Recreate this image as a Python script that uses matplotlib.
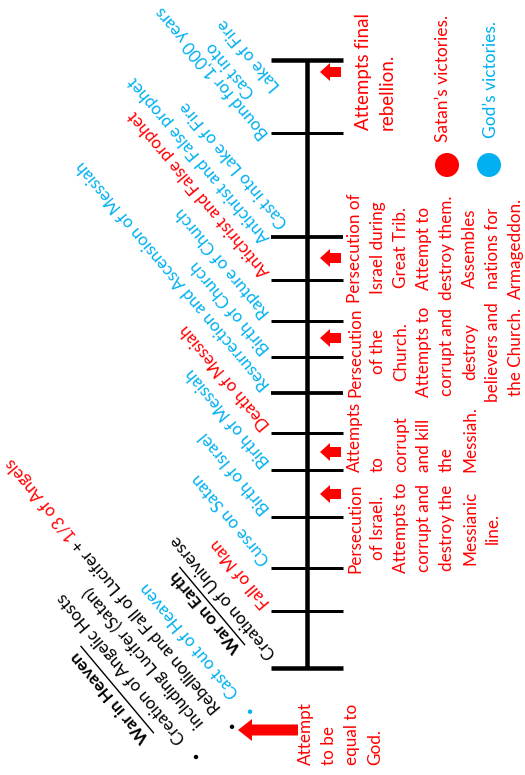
import numpy as np
import matplotlib
matplotlib.use('Agg')
import matplotlib.pyplot as plt
from matplotlib.patches import Circle, FancyArrow
from matplotlib.font_manager import FontProperties

RED = '#FF0000'
BLUE = '#00B0F0'
FONT = 'Lato'
FS = 12.2     # slanted labels
FS_R = 12.3   # upright blocks on the right

# timeline ticks (pixel rows) and what happened there
tick_y = [60, 133, 237, 280, 321, 357, 393, 433, 470, 517, 568, 611, 668]
events = [
    ["Cast into", "Lake of Fire"],
    ["Bound for 1,000 years"],
    ["Antichrist and False prophet", "Cast into Lake of Fire"],
    ["Antichrist and False prophet"],
    ["Rapture of Church"],
    ["Birth of Church"],
    ["Resurrection and Ascension of Messiah"],
    ["Death of Messiah"],
    ["Birth of Messiah"],
    ["Birth of Israel"],
    ["Curse on Satan"],
    ["Fall of Man"],
    ["War on Earth", "Creation of Universe"],
]
victor = ['god', 'god', 'god', 'satan', 'god', 'god', 'god', 'satan',
          'god', 'god', 'god', 'satan', 'none']

# Satan's attacks (arrow rows) and their descriptions
attack_y = [72, 258, 338, 452, 494]
attacks = [
    ["Attempts final", "rebellion."],
    ["Persecution of", "Israel during", "Great Trib.", "Attempt to",
     "destroy them.", "Assembles", "nations for", "Armageddon."],
    ["Persecution", "of the", "Church.", "Attempts to", "corrupt and",
     "destroy", "believers and", "the Church."],
    ["Attempts", "to", "corrupt", "and kill", "the", "Messiah."],
    ["Persecution", "of Israel.", "Attempts to", "corrupt and", "destroy the",
     "Messianic", "line."],
]
first_attack = ["Attempt", "to be", "equal to", "God."]

heaven_title = "War in Heaven"
heaven_items = [["Creation of Angelic Hosts", "including Lucifer (Satan)"],
                ["Rebellion and Fall of Lucifer + ", "1/3 of Angels"],
                ["Cast out of Heaven"]]

colors = {'god': BLUE, 'satan': RED, 'none': 'black'}

fig = plt.figure(figsize=(5.25, 7.75), dpi=100)
ax = fig.add_axes([0, 0, 1, 1])
ax.set_xlim(0, 525)
ax.set_ylim(775, 0)
ax.axis('off')
renderer = fig.canvas.get_renderer()


def width(s, weight='normal'):
    fp = FontProperties(family=FONT, size=FS, weight=weight)
    return renderer.get_text_width_height_descent(s, fp, ismath=False)[0]


PX = 0.72  # points per pixel
# timeline
ax.plot([307, 307], [tick_y[0], tick_y[-1]], color='black', lw=4.5 * PX,
        solid_capstyle='butt')
for i, y in enumerate(tick_y):
    lw = 4.5 if i in (0, len(tick_y) - 1) else (3.8 if i in (2, 6) else 3.0)
    ax.plot([271, 343], [y, y], color='black', lw=lw * PX, solid_capstyle='butt')

for y in attack_y:
    ax.add_patch(FancyArrow(341, y, -21, 0, width=10, head_width=18,
                            head_length=10, length_includes_head=True,
                            color=RED, lw=0))
ax.add_patch(FancyArrow(298, 730, -60, 0, width=11, head_width=22,
                        head_length=14, length_includes_head=True,
                        color=RED, lw=0))

# slanted labels
ANG = 130
bvec = np.array([np.cos(np.radians(ANG)), -np.sin(np.radians(ANG))])
dvec = np.array([np.sin(np.radians(ANG)), np.cos(np.radians(ANG))])
LS = 23.5


def slant(p, s, color, weight='normal', ha='left'):
    ax.text(p[0], p[1], s, rotation=ANG, rotation_mode='anchor', ha=ha,
            va='center', color=color, fontsize=FS, family=FONT,
            fontweight=weight)


offsets = {0: (-12, 43), 1: (-5, 3), 2: (-4, 3), 12: (-16, 3)}
for i, (y, lines) in enumerate(zip(tick_y, events)):
    dx, dy = offsets.get(i, (-4, -6))
    A = np.array([271 + dx, y + dy])
    weights = ['bold', 'normal'] if i == len(tick_y) - 1 else ['normal'] * len(lines)
    ws = [width(s, w) for s, w in zip(lines, weights)]
    for k, (s, w) in enumerate(zip(lines, weights)):
        shift = 0 if i == 2 else (max(ws) - ws[k]) / 2
        p = A + shift * bvec + k * LS * dvec
        slant(p, s, colors[victor[i]], weight=w)
        if w == 'bold':
            q = p + 9 * dvec
            e = q + ws[k] * bvec
            ax.plot([q[0], e[0]], [q[1], e[1]], color='black', lw=1.4 * PX)

# war in heaven list
O = np.array([196, 757])
def at(b, d):
    return O + b * bvec + d * dvec

slant(at(45, -27), heaven_title, 'black', weight='bold')
wt = width(heaven_title, 'bold')
q, e = at(46, -17), at(46 + wt, -17)
ax.plot([q[0], e[0]], [q[1], e[1]], color='black', lw=1.4 * PX)

dots = [(0, 'black'), (2 * LS, 'black'), (3 * LS, BLUE)]
for (d, c) in dots:
    p = at(0, d)
    ax.add_patch(Circle(p, 2.2, color=c, lw=0))
slant(at(21, 0), heaven_items[0][0], 'black')
slant(at(21, LS), heaven_items[0][1], 'black')
pre, suf = heaven_items[1]
full = pre + suf
slant(at(21, 2 * LS), pre, 'black')
slant(at(21 + width(full), 2 * LS), suf, RED, ha='right')
slant(at(21, 3 * LS), heaven_items[2][0], BLUE)


# vertical text blocks on the right
def vblock(lines, x0, y0, ha, color, step=23, size=FS_R):
    for k, s in enumerate(lines):
        ax.text(x0 + k * step, y0, s, rotation=90, rotation_mode='anchor',
                ha=ha, va='center', color=color, fontsize=size, family=FONT)


vblock(attacks[0], 364, 130, 'left', RED, size=13.5)
vblock(attacks[1], 355, 248, 'center', RED)
vblock(attacks[2], 355, 352, 'center', RED)
vblock(attacks[3], 355, 472, 'left', RED)
vblock(attacks[4], 355, 528, 'center', RED)
vblock(first_attack, 306, 765, 'left', RED)

# legend
ax.add_patch(Circle((447, 165), 12, color=RED, lw=0))
ax.add_patch(Circle((489, 165), 12, color=BLUE, lw=0))
vblock(["Satan\u2019s victories."], 443, 142, 'left', RED, size=12.5)
vblock(["God\u2019s victories."], 491, 138, 'left', BLUE, size=12.5)

fig.savefig('out.png', dpi=100)
